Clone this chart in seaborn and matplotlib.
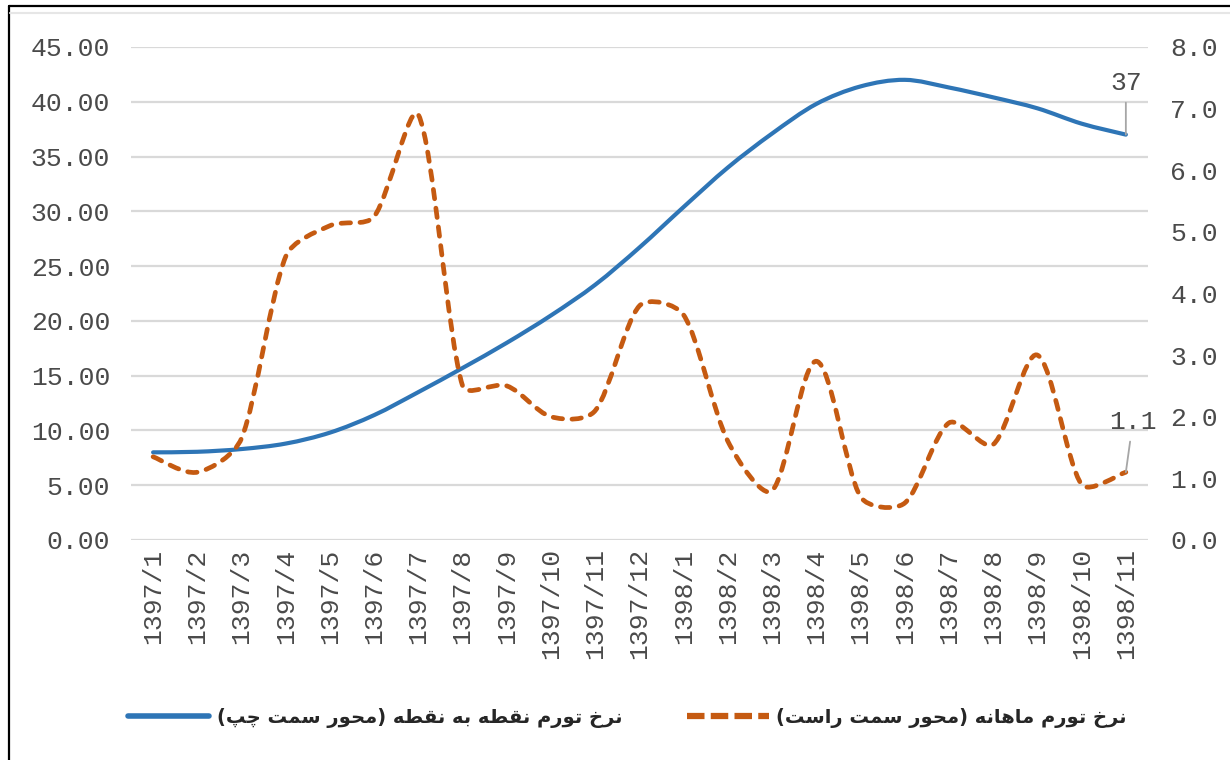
import matplotlib
matplotlib.use("Agg")
import matplotlib.pyplot as plt
from matplotlib.path import Path
from matplotlib.patches import PathPatch
from matplotlib.lines import Line2D
from matplotlib.ticker import FormatStrFormatter
import numpy as np
import seaborn as sns

# ---- data -------------------------------------------------------------
months = ["1397/1", "1397/2", "1397/3", "1397/4", "1397/5", "1397/6",
          "1397/7", "1397/8", "1397/9", "1397/10", "1397/11", "1397/12",
          "1398/1", "1398/2", "1398/3", "1398/4", "1398/5", "1398/6",
          "1398/7", "1398/8", "1398/9", "1398/10", "1398/11"]

# point-to-point inflation (left axis)
point_to_point = [8.0, 8.05, 8.3, 8.8, 9.8, 11.4, 13.5, 15.7, 18.0, 20.5,
                  23.3, 26.7, 30.4, 34.0, 37.1, 39.8, 41.4, 42.0, 41.3,
                  40.4, 39.4, 38.0, 37.0]

# monthly inflation (right axis)
monthly = [1.35, 1.1, 1.65, 4.6, 5.1, 5.25, 6.9, 2.5, 2.5, 2.0, 2.1,
           3.8, 3.65, 1.6, 0.8, 2.9, 0.7, 0.6, 1.9, 1.55, 3.0, 0.9, 1.1]

left_ticks = [0, 5, 10, 15, 20, 25, 30, 35, 40, 45]
right_ticks = [0, 1, 2, 3, 4, 5, 6, 7, 8]

label_ptp = "نرخ تورم نقطه به نقطه (محور سمت چپ)"
label_monthly = "نرخ تورم ماهانه (محور سمت راست)"

# ---- Arabic-script shaping (contextual forms + visual order) ----------
FORMS = {
    "\u0627": ("\uFE8D", "\uFE8E", None, None),
    "\u0628": ("\uFE8F", "\uFE90", "\uFE91", "\uFE92"),
    "\u062A": ("\uFE95", "\uFE96", "\uFE97", "\uFE98"),
    "\u062D": ("\uFEA1", "\uFEA2", "\uFEA3", "\uFEA4"),
    "\u062E": ("\uFEA5", "\uFEA6", "\uFEA7", "\uFEA8"),
    "\u0631": ("\uFEAD", "\uFEAE", None, None),
    "\u0633": ("\uFEB1", "\uFEB2", "\uFEB3", "\uFEB4"),
    "\u0637": ("\uFEC1", "\uFEC2", "\uFEC3", "\uFEC4"),
    "\u0642": ("\uFED5", "\uFED6", "\uFED7", "\uFED8"),
    "\u0645": ("\uFEE1", "\uFEE2", "\uFEE3", "\uFEE4"),
    "\u0646": ("\uFEE5", "\uFEE6", "\uFEE7", "\uFEE8"),
    "\u0647": ("\uFEE9", "\uFEEA", "\uFEEB", "\uFEEC"),
    "\u0648": ("\uFEED", "\uFEEE", None, None),
    "\u067E": ("\uFB56", "\uFB57", "\uFB58", "\uFB59"),
    "\u0686": ("\uFB7A", "\uFB7B", "\uFB7C", "\uFB7D"),
}


def shape_rtl(text):
    out = []
    for i, ch in enumerate(text):
        f = FORMS.get(ch)
        if f is None:
            out.append(ch)
            continue
        prev = text[i - 1] if i > 0 else ""
        nxt = text[i + 1] if i + 1 < len(text) else ""
        join_prev = prev in FORMS and FORMS[prev][2] is not None
        join_next = f[2] is not None and nxt in FORMS
        if join_prev and join_next:
            g = f[3]
        elif join_prev:
            g = f[1]
        elif join_next:
            g = f[2]
        else:
            g = f[0]
        out.append(g)
    visual = "".join(reversed(out))
    return visual.translate(str.maketrans("()", ")("))


# ---- smooth curve through the data points ------------------------------
# Catmull-Rom style Bezier built in screen space; a tangent is shortened
# only where the adjoining segment is much shorter than its neighbour.
def smooth_path(axes, xs, ys):
    pts = axes.transData.transform(np.column_stack([xs, ys]).astype(float))
    n = len(pts)
    seg = np.hypot(*np.diff(pts, axis=0).T)
    verts = [pts[0]]
    codes = [Path.MOVETO]
    for i in range(n - 1):
        p0 = pts[i - 1] if i > 0 else pts[i]
        p1, p2 = pts[i], pts[i + 1]
        p3 = pts[i + 2] if i + 2 < n else pts[i + 1]
        la = seg[i - 1] if i > 0 else seg[i]
        lb = seg[i + 1] if i + 2 < n else seg[i]
        li = seg[i]
        k1 = min(1.0, 2.0 * li / (la + li))
        k2 = min(1.0, 2.0 * li / (li + lb))
        c1 = p1 + (p2 - p0) / 6.0 * k1
        c2 = p2 - (p3 - p1) / 6.0 * k2
        verts += [c1, c2, p2]
        codes += [Path.CURVE4] * 3
    data = axes.transData.inverted().transform(np.array(verts))
    return Path(data, codes)


# ---- style ------------------------------------------------------------
sns.set_theme(style="white")
plt.rcParams["font.family"] = ["Liberation Mono", "DejaVu Sans"]

BLUE = "#2E75B6"
ORANGE = "#C55A11"
TEXT = "#4a4a4a"
GRID = "#d9d9d9"

fig = plt.figure(figsize=(12.3, 7.6), dpi=100)
ax = fig.add_axes([0.1065, 0.2895, 0.8268, 0.6487])
ax2 = ax.twinx()

xpos = np.arange(len(months))

ax.set_xlim(-0.5, len(months) - 0.5)
ax.set_ylim(0, 45)
ax2.set_ylim(0, 8)

ax.add_patch(PathPatch(smooth_path(ax, xpos, point_to_point), fill=False,
                       edgecolor=BLUE, lw=3.0, capstyle="round",
                       joinstyle="round", zorder=3))
ax2.add_patch(PathPatch(smooth_path(ax2, xpos, monthly), fill=False,
                        edgecolor=ORANGE, lw=3.4, linestyle=(0, (2.0, 2.0)),
                        capstyle="round", zorder=3))

ax.set_yticks(left_ticks)
ax2.set_yticks(right_ticks)
ax.yaxis.set_major_formatter(FormatStrFormatter("%.2f"))
ax2.yaxis.set_major_formatter(FormatStrFormatter("%.1f"))
ax.set_xticks(xpos)
ax.set_xticklabels(months, rotation=90)

ax.yaxis.grid(True, color=GRID, lw=1.6)
ax.xaxis.grid(False)
ax2.grid(False)
ax.set_axisbelow(True)
for a in (ax, ax2):
    for s in a.spines.values():
        s.set_visible(False)
    a.set_facecolor("none")

ax.tick_params(axis="y", length=0, pad=15, labelsize=19, labelcolor=TEXT)
ax2.tick_params(axis="y", length=0, pad=16, labelsize=19, labelcolor=TEXT)
ax.tick_params(axis="x", length=0, pad=6, labelsize=19, labelcolor=TEXT)

# value labels on the last month
last = len(months) - 1
ax.annotate(f"{point_to_point[-1]:.0f}", xy=(xpos[last], point_to_point[-1]),
            xytext=(0, 37), textcoords="offset points", ha="center",
            va="center", fontsize=19, color=TEXT,
            arrowprops=dict(arrowstyle="-", color="#a6a6a6", lw=1.3,
                            shrinkA=3, shrinkB=0))
ax2.annotate(f"{monthly[-1]:.1f}", xy=(xpos[last], monthly[-1]),
             xytext=(5, 36), textcoords="offset points", ha="center",
             va="center", fontsize=19, color=TEXT,
             arrowprops=dict(arrowstyle="-", color="#a6a6a6", lw=1.3,
                             shrinkA=3, shrinkB=0))

# legend
handles = [Line2D([], [], color=BLUE, lw=4.0, solid_capstyle="round"),
           Line2D([], [], color=ORANGE, lw=4.5, linestyle=(0, (2.8, 1.0)),
                  dash_capstyle="butt")]
fig.legend(handles, [shape_rtl(label_ptp), shape_rtl(label_monthly)],
           loc="center", bbox_to_anchor=(0.51, 0.055), ncol=2,
           frameon=False, handlelength=4.2, handletextpad=0.4,
           columnspacing=3.3,
           prop=dict(family="DejaVu Sans", weight="bold", size=14))

# outer frame
fig.add_artist(Line2D([9 / 1230, 9 / 1230], [0, 1 - 6 / 760],
                      transform=fig.transFigure, color="black", lw=1.6))
fig.add_artist(Line2D([9 / 1230, 1], [1 - 6 / 760, 1 - 6 / 760],
                      transform=fig.transFigure, color="black", lw=1.6))
fig.add_artist(Line2D([10 / 1230, 1], [1 - 13 / 760, 1 - 13 / 760],
                      transform=fig.transFigure, color="#e6e6e6", lw=1.5))

fig.savefig("out.png", dpi=100, facecolor="white")
